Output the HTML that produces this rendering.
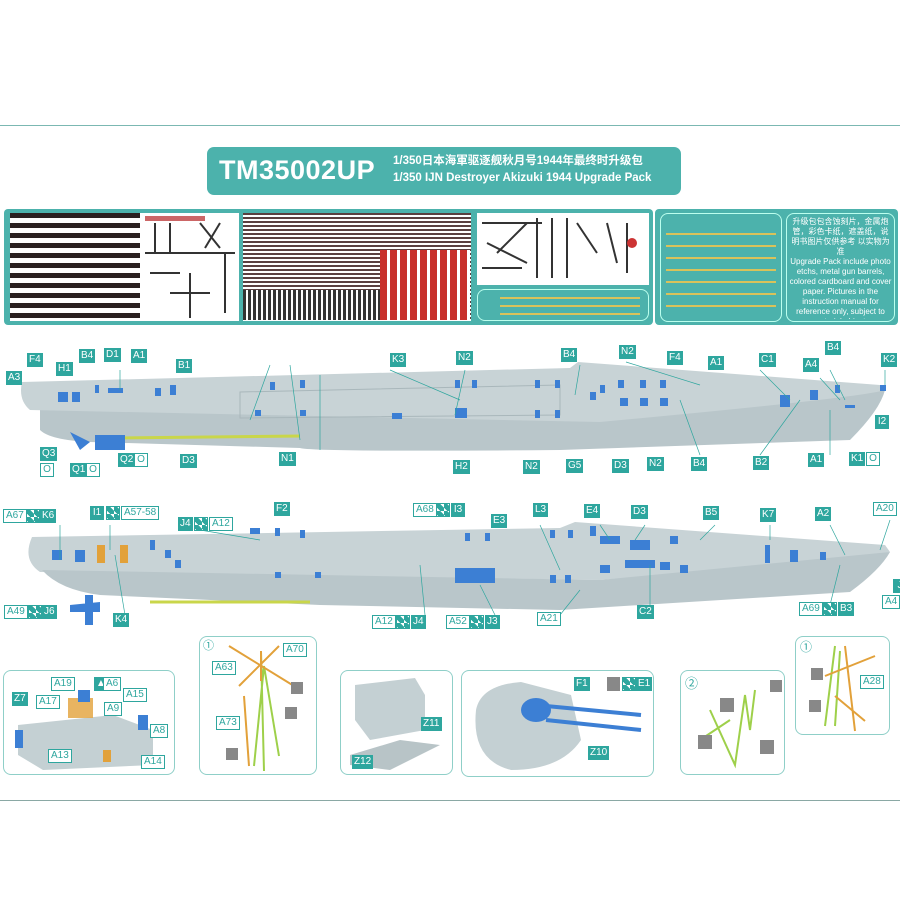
<!DOCTYPE html>
<html><head><meta charset="utf-8">
<style>
*{margin:0;padding:0;box-sizing:border-box}
body{width:900px;height:900px;background:#fff;position:relative;overflow:hidden;font-family:"Liberation Sans","Noto Sans CJK SC",sans-serif}
.a{position:absolute}
.l{position:absolute;height:14px;min-width:14px;padding:0 2px;background:#2ea69e;color:#fff;font-size:10px;line-height:14px;text-align:center}
.o{position:absolute;height:14px;padding:0 2px;background:#fff;color:#2ea69e;border:1px solid #2ea69e;font-size:10px;line-height:12px;text-align:center}
.ck{position:absolute;width:14px;height:14px;background:#2ea69e;border:1px solid #2ea69e;background-image:linear-gradient(45deg,#fff 25%,transparent 25%,transparent 75%,#fff 75%);background-size:7px 7px}
.sheet{position:absolute;background:#fff}
.pn{position:absolute;border:1px solid #8fcfc8;border-radius:8px;background:#fff}
</style></head><body>
<div class="a" style="left:0;top:125px;width:900px;height:1px;background:#7bb8b2"></div>
<div class="a" style="left:0;top:800px;width:900px;height:1px;background:#8aa8a4"></div>

<div class="a" style="left:207px;top:147px;width:474px;height:48px;background:#4cb2ac;border-radius:7px"></div>
<div class="a" style="left:219px;top:155px;color:#fff;font-size:27px;font-weight:bold;letter-spacing:0.5px">TM35002UP</div>
<div class="a" style="left:393px;top:152px;color:#fff;font-size:11.5px;font-weight:bold">1/350日本海軍驱逐舰秋月号1944年最终时升级包</div>
<div class="a" style="left:393px;top:172px;color:#fff;font-size:11.5px;font-weight:bold">1/350 IJN Destroyer Akizuki 1944 Upgrade Pack</div>

<div class="a" style="left:4px;top:209px;width:649px;height:116px;background:#4cb2ac;border-radius:4px"></div>
<div class="sheet" style="left:10px;top:213px;width:229px;height:108px;background:#fff repeating-linear-gradient(#2a2020 0 5px,#fff 5px 10px)"></div>
<div class="sheet" style="left:140px;top:213px;width:99px;height:108px;background:#fff"></div>
<svg class="a" style="left:140px;top:213px" width="99" height="108"><g stroke="#333" stroke-width="2" fill="none"><path d="M5 40h90M15 10v30M30 10v30M60 10l20 25M80 10l-15 25M50 60v45M30 80h40M85 40v60M10 60h30"/></g><rect x="5" y="3" width="60" height="5" fill="#c66"/></svg>
<div class="sheet" style="left:243px;top:213px;width:228px;height:108px;background:#fff repeating-linear-gradient(#5a4040 0 2px,#fff 2px 4px)"></div>
<div class="sheet" style="left:380px;top:250px;width:90px;height:70px;background:#fff repeating-linear-gradient(90deg,#c8302a 0 7px,#fff 7px 10px)"></div>
<div class="sheet" style="left:243px;top:290px;width:137px;height:30px;background:#fff repeating-linear-gradient(90deg,#333 0 3px,#fff 3px 5px)"></div>
<div class="sheet" style="left:477px;top:213px;width:172px;height:72px;background:#fff"></div>
<svg class="a" style="left:477px;top:213px" width="172" height="72"><g stroke="#333" stroke-width="2" fill="none"><path d="M5 10h60M10 30l40 20M60 5v60M75 5v60M90 5v60M100 10l20 30M130 10l10 40M150 10v50M5 55h40M20 40l30-30"/></g><circle cx="155" cy="30" r="5" fill="#c33"/></svg>
<div class="pn" style="left:477px;top:289px;width:172px;height:32px;background:#4cb2ac;border-color:#bfe"></div>
<div class="a" style="left:500px;top:297px;width:140px;height:2px;background:#d9c25a"></div>
<div class="a" style="left:500px;top:305px;width:140px;height:2px;background:#d9c25a"></div>
<div class="a" style="left:500px;top:313px;width:140px;height:2px;background:#d9c25a"></div>

<div class="a" style="left:655px;top:209px;width:243px;height:116px;background:#4cb2ac;border-radius:4px"></div>
<div class="pn" style="left:660px;top:213px;width:122px;height:109px;background:#4cb2ac;border-color:#bfe"></div>
<div class="a" style="left:666px;top:233px;width:110px;height:2px;background:#d9c25a;box-shadow:0 12px 0 #d9c25a,0 24px 0 #d9c25a,0 36px 0 #d9c25a,0 48px 0 #d9c25a,0 60px 0 #d9c25a,0 72px 0 #d9c25a"></div>
<div class="pn" style="left:786px;top:213px;width:109px;height:109px;background:#4cb2ac;border-color:#bfe;overflow:hidden"></div>
<div class="a" style="left:789px;top:217px;width:103px;height:102px;overflow:hidden;color:#fff;font-size:8px;line-height:10px;text-align:center">升级包包含蚀刻片，金属炮管，彩色卡纸，遮盖纸，说明书图片仅供参考 以实物为准<br>Upgrade Pack include photo etchs, metal gun barrels, colored cardboard and cover paper. Pictures in the instruction manual for reference only, subject to material object.</div>

<svg class="a" style="left:0;top:340px" width="900" height="300">
<g>
<path d="M40 90 Q50 100 90 102 L300 108 Q310 112 560 110 L850 100 Q880 70 885 50 L40 65 Z" fill="#b9c6ca"/>
<path d="M22 42 L570 28 L578 22 L880 45 L885 50 Q860 58 600 82 L30 70 Q18 60 22 42Z" fill="#c8d3d6"/>
<path d="M240 52 L560 45 L560 75 L240 78Z" fill="none" stroke="#a9b7bb"/>
<path d="M120 98 L300 96" stroke="#c9d64a" stroke-width="3"/>
<path d="M70 92 l20 10 l-10 8 z M95 95 l30 0 l0 15 l-30 0z" fill="#3c7fd4"/>
<path d="M32 197 L560 188 L575 182 L885 205 L890 212 Q850 220 600 240 L40 232 Q22 220 32 197Z" fill="#c8d3d6"/>
<path d="M42 230 Q60 250 100 255 L320 265 L560 270 L850 252 Q880 230 890 212 L600 240Z" fill="#b9c6ca"/>
<path d="M150 262 L310 262" stroke="#c9d64a" stroke-width="3"/>
<path d="M70 265 l30 -3 l0 10 l-30 0z M85 255 l8 0 l0 30 l-8 0z" fill="#3c7fd4"/>
<path d="M455 228 h40 v15 h-40z" fill="#3c7fd4"/>
</g>
<g fill="#3c7fd4">
<rect x="58" y="52" width="10" height="10"/><rect x="72" y="52" width="8" height="10"/><rect x="95" y="45" width="4" height="8"/><rect x="108" y="48" width="15" height="5"/><rect x="155" y="48" width="6" height="8"/><rect x="170" y="45" width="6" height="10"/><rect x="270" y="42" width="5" height="8"/><rect x="300" y="40" width="5" height="8"/><rect x="255" y="70" width="6" height="6"/><rect x="300" y="70" width="6" height="6"/><rect x="392" y="73" width="10" height="6"/><rect x="455" y="68" width="12" height="10"/><rect x="455" y="40" width="5" height="8"/><rect x="472" y="40" width="5" height="8"/><rect x="535" y="40" width="5" height="8"/><rect x="555" y="40" width="5" height="8"/><rect x="535" y="70" width="5" height="8"/><rect x="555" y="70" width="5" height="8"/><rect x="590" y="52" width="6" height="8"/><rect x="618" y="40" width="6" height="8"/><rect x="640" y="40" width="6" height="8"/><rect x="660" y="40" width="6" height="8"/><rect x="620" y="58" width="8" height="8"/><rect x="640" y="58" width="8" height="8"/><rect x="660" y="58" width="8" height="8"/><rect x="600" y="45" width="5" height="8"/><rect x="780" y="55" width="10" height="12"/><rect x="810" y="50" width="8" height="10"/><rect x="835" y="45" width="5" height="8"/><rect x="845" y="65" width="10" height="3"/><rect x="880" y="45" width="6" height="6"/>
<rect x="52" y="210" width="10" height="10"/><rect x="75" y="210" width="10" height="12"/><rect x="97" y="205" width="8" height="18" fill="#e2a13a"/><rect x="120" y="205" width="8" height="18" fill="#e2a13a"/><rect x="150" y="200" width="5" height="10"/><rect x="165" y="210" width="6" height="8"/><rect x="175" y="220" width="6" height="8"/><rect x="250" y="188" width="10" height="6"/><rect x="275" y="188" width="5" height="8"/><rect x="300" y="190" width="5" height="8"/><rect x="275" y="232" width="6" height="6"/><rect x="315" y="232" width="6" height="6"/><rect x="465" y="193" width="5" height="8"/><rect x="485" y="193" width="5" height="8"/><rect x="550" y="190" width="5" height="8"/><rect x="568" y="190" width="5" height="8"/><rect x="590" y="186" width="6" height="10"/><rect x="600" y="196" width="20" height="8"/><rect x="630" y="200" width="20" height="10"/><rect x="670" y="196" width="8" height="8"/><rect x="625" y="220" width="30" height="8"/><rect x="660" y="222" width="10" height="8"/><rect x="680" y="225" width="8" height="8"/><rect x="765" y="205" width="5" height="18"/><rect x="790" y="210" width="8" height="12"/><rect x="820" y="212" width="6" height="8"/><rect x="550" y="235" width="6" height="8"/><rect x="565" y="235" width="6" height="8"/><rect x="600" y="225" width="10" height="8"/>
</g>
<g stroke="#2ea69e" stroke-width="0.7" fill="none">
<path d="M290 25 L300 100 M270 25 L250 80 M465 30 L455 75 M390 30 L460 60 M626 22 L700 45 M580 25 L575 55 M320 35 L320 110 M120 30 L120 50 M760 30 L790 60 M820 38 L840 60 M830 30 L845 60 M885 30 L885 45 M830 115 L830 70 M760 115 L800 60 M700 115 L680 60"/>
<path d="M60 185 L60 220 M110 185 L110 210 M200 190 L260 200 M540 185 L560 230 M600 185 L610 200 M645 185 L635 200 M715 185 L700 200 M770 185 L770 200 M830 185 L845 215 M890 180 L880 210 M125 275 L115 215 M425 275 L420 225 M495 275 L480 245 M560 275 L580 250 M650 270 L650 225 M830 265 L840 225"/>
</g>
</svg>

<div class="l" style="left:27px;top:353px">F4</div><div class="l" style="left:56px;top:362px">H1</div><div class="l" style="left:79px;top:349px">B4</div><div class="l" style="left:104px;top:348px">D1</div><div class="l" style="left:131px;top:349px">A1</div><div class="l" style="left:176px;top:359px">B1</div><div class="l" style="left:6px;top:371px">A3</div><div class="l" style="left:390px;top:353px">K3</div><div class="l" style="left:456px;top:351px">N2</div><div class="l" style="left:561px;top:348px">B4</div><div class="l" style="left:619px;top:345px">N2</div><div class="l" style="left:667px;top:351px">F4</div><div class="l" style="left:708px;top:356px">A1</div><div class="l" style="left:759px;top:353px">C1</div><div class="l" style="left:803px;top:358px">A4</div><div class="l" style="left:825px;top:341px">B4</div><div class="l" style="left:881px;top:353px">K2</div><div class="l" style="left:875px;top:415px">I2</div>
<div class="l" style="left:40px;top:447px">Q3</div><div class="o" style="left:40px;top:463px;width:14px">O</div><div class="l" style="left:70px;top:463px">Q1</div><div class="o" style="left:86px;top:463px;width:14px">O</div><div class="l" style="left:118px;top:453px">Q2</div><div class="o" style="left:134px;top:453px;width:14px">O</div><div class="l" style="left:180px;top:454px">D3</div><div class="l" style="left:279px;top:452px">N1</div><div class="l" style="left:453px;top:460px">H2</div><div class="l" style="left:523px;top:460px">N2</div><div class="l" style="left:566px;top:459px">G5</div><div class="l" style="left:612px;top:459px">D3</div><div class="l" style="left:647px;top:457px">N2</div><div class="l" style="left:691px;top:457px">B4</div><div class="l" style="left:753px;top:456px">B2</div><div class="l" style="left:808px;top:453px">A1</div><div class="l" style="left:849px;top:452px">K1</div><div class="o" style="left:866px;top:452px;width:14px">O</div>

<div class="o" style="left:3px;top:509px">A67</div><div class="ck" style="left:26px;top:509px"></div><div class="l" style="left:40px;top:509px">K6</div>
<div class="l" style="left:90px;top:506px">I1</div><div class="ck" style="left:106px;top:506px"></div><div class="o" style="left:121px;top:506px">A57-58</div>
<div class="l" style="left:178px;top:517px">J4</div><div class="ck" style="left:194px;top:517px"></div><div class="o" style="left:209px;top:517px">A12</div>
<div class="l" style="left:274px;top:502px">F2</div>
<div class="o" style="left:413px;top:503px">A68</div><div class="ck" style="left:436px;top:503px"></div><div class="l" style="left:451px;top:503px">I3</div>
<div class="l" style="left:491px;top:514px">E3</div><div class="l" style="left:533px;top:503px">L3</div><div class="l" style="left:584px;top:504px">E4</div><div class="l" style="left:631px;top:505px">D3</div><div class="l" style="left:703px;top:506px">B5</div><div class="l" style="left:760px;top:508px">K7</div><div class="l" style="left:815px;top:507px">A2</div><div class="o" style="left:873px;top:502px">A20</div>
<div class="l" style="left:893px;top:579px">J</div><div class="o" style="left:882px;top:595px">A4</div>
<div class="o" style="left:4px;top:605px">A49</div><div class="ck" style="left:28px;top:605px"></div><div class="l" style="left:42px;top:605px">J6</div>
<div class="l" style="left:113px;top:613px">K4</div>
<div class="o" style="left:372px;top:615px">A12</div><div class="ck" style="left:396px;top:615px"></div><div class="l" style="left:411px;top:615px">J4</div>
<div class="o" style="left:446px;top:615px">A52</div><div class="ck" style="left:470px;top:615px"></div><div class="l" style="left:485px;top:615px">J3</div>
<div class="o" style="left:537px;top:612px">A21</div><div class="l" style="left:637px;top:605px">C2</div>
<div class="o" style="left:799px;top:602px">A69</div><div class="ck" style="left:823px;top:602px"></div><div class="l" style="left:838px;top:602px">B3</div>

<div class="pn" style="left:3px;top:670px;width:172px;height:105px"></div>
<svg class="a" style="left:3px;top:670px" width="172" height="105"><path d="M15 55 L110 45 L150 60 L150 95 L40 100 L15 85Z" fill="#c4d0d3"/><rect x="65" y="28" width="25" height="20" fill="#e2a13a" opacity=".8"/><rect x="75" y="20" width="12" height="12" fill="#3c7fd4"/><rect x="135" y="45" width="10" height="15" fill="#3c7fd4"/><rect x="12" y="60" width="8" height="18" fill="#3c7fd4"/><rect x="60" y="80" width="8" height="12" fill="#e2a13a"/><rect x="100" y="80" width="8" height="12" fill="#e2a13a"/></svg>
<div class="l" style="left:12px;top:692px">Z7</div><div class="o" style="left:36px;top:695px">A17</div><div class="o" style="left:51px;top:677px">A19</div><div class="l" style="left:94px;top:677px">▲</div><div class="o" style="left:103px;top:677px">A6</div><div class="o" style="left:123px;top:688px">A15</div><div class="o" style="left:104px;top:702px">A9</div><div class="o" style="left:150px;top:724px">A8</div><div class="o" style="left:48px;top:749px">A13</div><div class="o" style="left:141px;top:755px">A14</div>

<div class="pn" style="left:199px;top:636px;width:118px;height:139px"></div>
<svg class="a" style="left:199px;top:636px" width="118" height="139"><g stroke="#9ed04a" stroke-width="2"><path d="M62 15 L65 135 M65 30 L55 130 M65 30 L80 120"/></g><g stroke="#e2a13a" stroke-width="2"><path d="M30 10 L95 50 M40 50 L80 10 M62 15 L62 45 M45 60 L50 130"/></g><rect x="92" y="46" width="12" height="12" fill="#888"/><rect x="86" y="71" width="12" height="12" fill="#888"/><rect x="27" y="112" width="12" height="12" fill="#888"/></svg>
<div class="a" style="left:203px;top:637px;font-size:11px;color:#2ea69e">①</div><div class="o" style="left:283px;top:643px">A70</div><div class="o" style="left:212px;top:661px">A63</div><div class="o" style="left:216px;top:716px">A73</div>

<div class="pn" style="left:340px;top:670px;width:113px;height:105px"></div>
<svg class="a" style="left:340px;top:670px" width="113" height="105"><path d="M15 15 L75 8 L85 25 L85 60 L30 70 L15 50Z" fill="#c4d0d3"/><path d="M10 85 L60 70 L100 75 L50 100 L10 95Z" fill="#b8c4c7"/></svg>
<div class="l" style="left:421px;top:717px">Z11</div><div class="l" style="left:352px;top:755px">Z12</div>

<div class="pn" style="left:461px;top:670px;width:193px;height:107px"></div>
<svg class="a" style="left:461px;top:670px" width="193" height="107"><path d="M15 40 Q20 15 60 12 L110 25 L120 70 Q100 100 50 100 Q10 90 15 40Z" fill="#c4d0d3"/><ellipse cx="75" cy="40" rx="15" ry="12" fill="#3c7fd4"/><path d="M85 36 L180 45 M85 50 L180 60" stroke="#3c7fd4" stroke-width="4"/></svg>
<div class="l" style="left:574px;top:677px">F1</div><div class="a" style="left:607px;top:677px;width:13px;height:14px;background:#888"></div><div class="ck" style="left:622px;top:677px"></div><div class="l" style="left:636px;top:677px">E1</div><div class="l" style="left:588px;top:746px">Z10</div>

<div class="pn" style="left:680px;top:670px;width:105px;height:105px"></div>
<svg class="a" style="left:680px;top:670px" width="105" height="105"><g stroke="#9ed04a" stroke-width="2" fill="none"><path d="M30 40 L55 95 L65 25 L70 60 L75 20 M20 70 L50 50"/></g><rect x="90" y="10" width="12" height="12" fill="#888"/><rect x="40" y="28" width="14" height="14" fill="#888"/><rect x="18" y="65" width="14" height="14" fill="#888"/><rect x="80" y="70" width="14" height="14" fill="#888"/></svg>
<div class="a" style="left:685px;top:673px;font-size:13px;color:#2ea69e">②</div>

<div class="pn" style="left:795px;top:636px;width:95px;height:99px"></div>
<svg class="a" style="left:795px;top:636px" width="95" height="99"><g stroke="#9ed04a" stroke-width="2"><path d="M40 10 L30 90 M45 15 L40 90"/></g><g stroke="#e2a13a" stroke-width="2"><path d="M50 10 L60 95 M30 40 L80 20 M40 60 L70 85"/></g><rect x="16" y="32" width="12" height="12" fill="#888"/><rect x="14" y="64" width="12" height="12" fill="#888"/></svg>
<div class="a" style="left:800px;top:638px;font-size:12px;color:#2ea69e">①</div><div class="o" style="left:860px;top:675px">A28</div>
</body></html>
